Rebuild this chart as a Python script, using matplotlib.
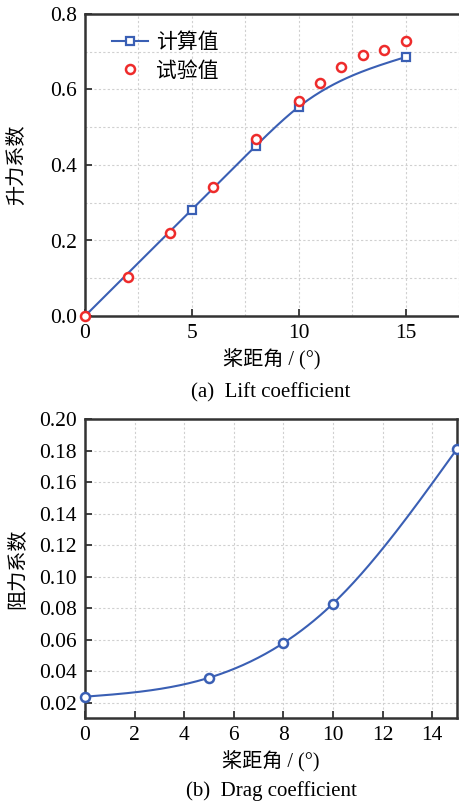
import numpy as np
import matplotlib
matplotlib.use("Agg")
import matplotlib.pyplot as plt
from matplotlib.ticker import MultipleLocator, FormatStrFormatter

# ---- data ----
lift_calc_x = [0, 5, 8, 10, 15]
lift_calc_y = [0.0, 0.282, 0.451, 0.554, 0.686]
lift_exp_x = [0, 2, 4, 6, 8, 10, 11, 12, 13, 14, 15]
lift_exp_y = [0.0, 0.103, 0.219, 0.343, 0.468, 0.570, 0.616, 0.659, 0.691, 0.705, 0.729]
drag_x = [0, 5, 8, 10, 15]
drag_y = [0.024, 0.036, 0.058, 0.083, 0.181]

legend_labels = ["计算值", "试验值"]
xlabel = "桨距角 / (°)"
ylabel_a = "升力系数"
ylabel_b = "阻力系数"
caption_a = "(a)  Lift coefficient"
caption_b = "(b)  Drag coefficient"

BLUE = "#3a5fb4"
RED = "#ee2b2b"
SPINE = "#333333"
CJK = ["Noto Sans CJK SC", "Liberation Serif", "DejaVu Sans"]
SERIF = ["Liberation Serif", "DejaVu Serif"]
LABEL_CJK = ["Liberation Serif", "Noto Sans CJK SC", "DejaVu Sans"]


def natural_spline(x, y, n=300):
    x = np.asarray(x, float)
    y = np.asarray(y, float)
    m = len(x)
    h = np.diff(x)
    A = np.zeros((m, m))
    b = np.zeros(m)
    A[0, 0] = 1
    A[-1, -1] = 1
    for i in range(1, m - 1):
        A[i, i - 1] = h[i - 1]
        A[i, i] = 2 * (h[i - 1] + h[i])
        A[i, i + 1] = h[i]
        b[i] = 6 * ((y[i + 1] - y[i]) / h[i] - (y[i] - y[i - 1]) / h[i - 1])
    M = np.linalg.solve(A, b)
    xs = np.linspace(x[0], x[-1], n)
    idx = np.clip(np.searchsorted(x, xs) - 1, 0, m - 2)
    x0, x1 = x[idx], x[idx + 1]
    hh = x1 - x0
    t0 = x1 - xs
    t1 = xs - x0
    ys = (M[idx] * t0 ** 3 / (6 * hh) + M[idx + 1] * t1 ** 3 / (6 * hh)
          + (y[idx] / hh - M[idx] * hh / 6) * t0
          + (y[idx + 1] / hh - M[idx + 1] * hh / 6) * t1)
    return xs, ys


plt.rcParams["font.family"] = SERIF
fig = plt.figure(figsize=(4.59, 8.05), dpi=100)

W, H = 459, 805
def pos(l, t, r, b):
    return [l / W, 1 - b / H, (r - l) / W, (b - t) / H]

# ---- top axes ----
ax1 = fig.add_axes(pos(85, 14, 459, 316))
sx, sy = natural_spline(lift_calc_x, lift_calc_y)
ax1.plot(sx, sy, color=BLUE, lw=1.5, zorder=3)
ax1.plot(lift_calc_x, lift_calc_y, ls="none", marker="s", ms=5.5, mfc="white",
         mec=BLUE, mew=1.6, zorder=4)
ax1.plot(lift_exp_x, lift_exp_y, ls="none", marker="o", ms=6.5, mfc="white",
         mec=RED, mew=1.8, zorder=5, clip_on=False)
h1, = ax1.plot([], [], color=BLUE, lw=1.5, marker="s", ms=5.5, mfc="white", mec=BLUE, mew=1.6)
h2, = ax1.plot([], [], ls="none", marker="o", ms=6.5, mfc="white", mec=RED, mew=1.8)
ax1.legend([h1, h2], legend_labels, loc="upper left", frameon=False,
           prop={"family": CJK, "size": 15}, bbox_to_anchor=(0.05, 0.97),
           borderaxespad=0, handlelength=1.75, handletextpad=0.35,
           labelspacing=0.3)
ax1.set_xlim(0, 17.5)
ax1.set_ylim(0, 0.8)
ax1.xaxis.set_major_locator(MultipleLocator(5))
ax1.xaxis.set_minor_locator(MultipleLocator(2.5))
ax1.yaxis.set_major_locator(MultipleLocator(0.2))
ax1.yaxis.set_minor_locator(MultipleLocator(0.1))
ax1.yaxis.set_major_formatter(FormatStrFormatter("%.1f"))
ax1.grid(True, which="both", color="#d0d0d0", ls=(0, (2, 2)), lw=0.8)
ax1.spines["right"].set_visible(False)

# ---- bottom axes ----
ax2 = fig.add_axes(pos(85, 419, 457, 718))
dx, dy = natural_spline(drag_x, drag_y)
ax2.plot(dx, dy, color=BLUE, lw=1.5, zorder=3)
ax2.plot(drag_x, drag_y, ls="none", marker="o", ms=6.5, mfc="white",
         mec=BLUE, mew=1.8, zorder=4, clip_on=False)
ax2.set_xlim(0, 15)
ax2.set_ylim(0.0105, 0.20)
ax2.xaxis.set_major_locator(MultipleLocator(2))
ax2.set_yticks(np.arange(0.02, 0.2001, 0.02))
ax2.yaxis.set_major_formatter(FormatStrFormatter("%.2f"))
ax2.grid(True, which="major", color="#d0d0d0", ls=(0, (2, 2)), lw=0.8)

for ax, yl in ((ax1, ylabel_a), (ax2, ylabel_b)):
    ax.set_axisbelow(True)
    for s in ax.spines.values():
        s.set_linewidth(1.8)
        s.set_color(SPINE)
    ax.tick_params(which="major", direction="in", length=5, width=1.3,
                   color=SPINE, labelsize=15.5, pad=6)
    ax.tick_params(which="minor", length=0)
    for lab in ax.get_xticklabels() + ax.get_yticklabels():
        lab.set_family(SERIF)
    ax.set_xlabel(xlabel, family=LABEL_CJK, fontsize=14.5, va="center")
    ax.set_ylabel(yl, family=CJK, fontsize=14.5, va="center")

ax1.xaxis.set_label_coords(0.5, (316 - 360) / 302)
ax2.xaxis.set_label_coords(0.5, (718 - 762) / 299)
ax1.yaxis.set_label_coords((17 - 85) / 374, 0.5)
ax2.yaxis.set_label_coords((18 - 85) / 372, 0.5)

fig.text(271 / W, 1 - 393 / H, caption_a, ha="center", va="center",
         family=SERIF, fontsize=15)
fig.text(271 / W, 1 - 791 / H, caption_b, ha="center", va="center",
         family=SERIF, fontsize=15)

fig.savefig("out.png", dpi=100)
